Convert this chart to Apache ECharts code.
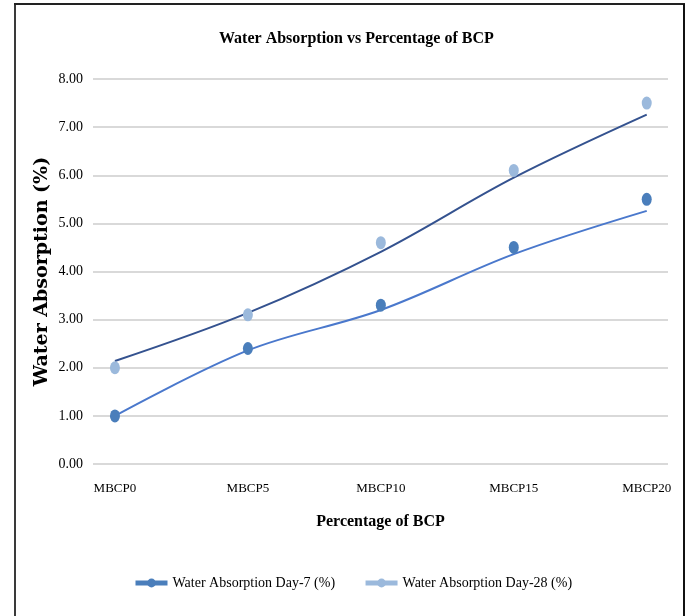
<!DOCTYPE html>
<html>
<head>
<meta charset="utf-8">
<script src="https://cdn.jsdelivr.net/npm/echarts@6/dist/echarts.min.js"></script>
<style>html,body{margin:0;padding:0;background:#fff;}#c{width:688px;height:616px;}</style>
</head>
<body>
<div id="c"></div>
<script>
// ---- data ----
var categories = ['MBCP0', 'MBCP5', 'MBCP10', 'MBCP15', 'MBCP20'];
var day7 = [1.00, 2.40, 3.30, 4.50, 5.50];
var day28 = [2.00, 3.10, 4.60, 6.10, 7.50];
// trendlines as drawn in the reference, read at each category
var day7Trend = [1.00, 2.36, 3.20, 4.36, 5.26];
var day28Trend = [2.14, 3.14, 4.41, 5.95, 7.26];
var yTicks = [0, 1, 2, 3, 4, 5, 6, 7, 8];
var seriesNames = ['Water Absorption Day-7 (%)', 'Water Absorption Day-28 (%)'];

function pairs(arr) { return arr.map(function (v, i) { return [i, v]; }); }

var serif = 'Liberation Serif';
var chart = echarts.init(document.getElementById('c'), null, { renderer: 'canvas' });
chart.setOption({
  animation: false,
  backgroundColor: '#ffffff',
  title: {
    text: 'Water Absorption vs Percentage of BCP',
    left: 214, top: 26,
    textStyle: { fontFamily: serif, fontSize: 16, fontWeight: 'bold', color: '#000' }
  },
  grid: { left: 93, right: 20, top: 79, bottom: 152, containLabel: false },
  xAxis: {
    type: 'value', min: -0.165, max: 4.16,
    name: 'Percentage of BCP', nameLocation: 'middle', nameGap: 50, nameMoveOverlap: false,
    nameTextStyle: { fontFamily: serif, fontSize: 16, fontWeight: 'bold', color: '#000' },
    axisLine: { show: false }, axisTick: { show: false }, splitLine: { show: false },
    axisLabel: {
      customValues: [0, 1, 2, 3, 4],
      formatter: function (v) { return categories[Math.round(v)]; },
      margin: 18, fontFamily: serif, fontSize: 13, color: '#000'
    }
  },
  yAxis: {
    type: 'value', min: yTicks[0], max: yTicks[yTicks.length - 1], interval: 1,
    name: 'Water Absorption (%)', nameLocation: 'middle', nameGap: 41, nameMoveOverlap: false,
    nameTextStyle: { fontFamily: 'DejaVu Serif', fontSize: 19, fontWeight: 'bold', color: '#000' },
    axisLine: { show: false }, axisTick: { show: false },
    splitLine: { lineStyle: { color: '#d9d9d9', width: 2 } },
    axisLabel: {
      formatter: function (v) { return v.toFixed(2); },
      margin: 10, fontFamily: serif, fontSize: 14, color: '#000'
    }
  },
  legend: {
    data: seriesNames,
    left: 128, top: 571,
    itemWidth: 32, itemHeight: 11, itemGap: 28,
    textStyle: { fontFamily: serif, fontSize: 14, color: '#000' },
    lineStyle: { width: 5, opacity: 1 }
  },
  series: [
    {
      name: 'Day-7 trend', type: 'line', data: pairs(day7Trend), smooth: 0.35,
      showSymbol: false, lineStyle: { color: '#4a78cc', width: 2 }, z: 2, silent: true
    },
    {
      name: 'Day-28 trend', type: 'line', data: pairs(day28Trend), smooth: 0.35,
      showSymbol: false, lineStyle: { color: '#34528f', width: 2 }, z: 2, silent: true
    },
    {
      name: seriesNames[0], type: 'line', data: pairs(day7),
      symbol: 'circle', symbolSize: [10, 13],
      itemStyle: { color: '#4a7ebb' }, lineStyle: { width: 0, color: '#4a7ebb' }, z: 3
    },
    {
      name: seriesNames[1], type: 'line', data: pairs(day28),
      symbol: 'circle', symbolSize: [10, 13],
      itemStyle: { color: '#9bb9dc' }, lineStyle: { width: 0, color: '#9bb9dc' }, z: 3
    }
  ],
  graphic: [
    { type: 'line', shape: { x1: 15, y1: 4, x2: 15, y2: 616 }, style: { stroke: '#3a3a3a', lineWidth: 2 } },
    { type: 'line', shape: { x1: 14, y1: 4, x2: 685, y2: 4 }, style: { stroke: '#222', lineWidth: 2 } },
    { type: 'line', shape: { x1: 684, y1: 4, x2: 684, y2: 616 }, style: { stroke: '#111', lineWidth: 2 } }
  ]
});
</script>
</body>
</html>
